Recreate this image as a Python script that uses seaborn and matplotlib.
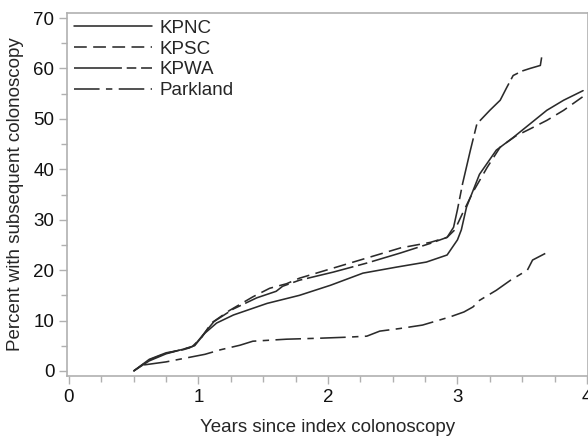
import matplotlib
matplotlib.use("Agg")
import matplotlib.pyplot as plt
import pandas as pd
import seaborn as sns
from matplotlib.ticker import MultipleLocator

# values
kpnc_years = [0.5, 0.62, 0.75, 0.88, 0.97, 1.05, 1.14, 1.27, 1.53, 1.78, 2.02, 2.27,
              2.53, 2.76, 2.92, 3.0, 3.03, 3.07, 3.17, 3.3, 3.43, 3.56, 3.69, 3.82, 3.97]
kpnc_pct = [0, 2.0, 3.4, 4.3, 5.0, 7.5, 9.5, 11.1, 13.4, 15.0, 17.0, 19.4,
            20.6, 21.6, 23.0, 26.0, 28.0, 32.5, 39.0, 43.8, 46.3, 49.0, 51.7, 53.7, 55.6]

kpsc_years = [0.5, 0.62, 0.75, 0.88, 0.95, 1.02, 1.1, 1.24, 1.42, 1.55, 1.68, 1.78, 2.04,
              2.3, 2.56, 2.79, 2.92, 2.98, 3.04, 3.12, 3.23, 3.33, 3.45, 3.56, 3.69, 3.82, 3.99]
kpsc_pct = [0, 2.2, 3.5, 4.3, 4.8, 6.5, 9.5, 12.0, 14.7, 16.4, 17.3, 18.4, 20.4,
            22.4, 24.4, 25.5, 26.5, 28.0, 31.3, 35.5, 40.4, 44.4, 46.6, 48.0, 49.7, 51.7, 54.8]

kpwa_years = [0.5, 0.62, 0.75, 0.88, 0.96, 1.03, 1.12, 1.27, 1.45, 1.6, 1.65, 1.78, 2.04,
              2.3, 2.56, 2.79, 2.92, 2.97, 3.0, 3.04, 3.1, 3.15, 3.25, 3.33, 3.38, 3.43,
              3.5, 3.56, 3.64, 3.65]
kpwa_pct = [0, 2.3, 3.6, 4.2, 4.8, 7.0, 9.8, 12.3, 14.5, 15.8, 16.8, 18.0, 19.6,
            21.4, 23.4, 25.3, 26.5, 28.5, 32.0, 37.2, 43.8, 49.0, 51.7, 53.7, 56.2, 58.6,
            59.5, 60.0, 60.6, 62.2]

parkland_years = [0.58, 0.75, 0.91, 1.05, 1.17, 1.32, 1.42, 1.55, 1.68, 1.94, 2.15, 2.3,
                  2.4, 2.55, 2.73, 2.94, 3.05, 3.12, 3.17, 3.3, 3.41, 3.54, 3.58, 3.7]
parkland_pct = [1.2, 1.8, 2.6, 3.3, 4.2, 5.1, 5.9, 6.1, 6.3, 6.5, 6.7, 6.9,
                7.9, 8.4, 9.1, 10.7, 11.7, 12.7, 14.0, 16.0, 18.0, 20.0, 22.0, 23.6]

sites = ["KPNC", "KPSC", "KPWA", "Parkland"]


def _long_frame() -> pd.DataFrame:
    parts = []
    for site, xs, ys in zip(
        sites,
        [kpnc_years, kpsc_years, kpwa_years, parkland_years],
        [kpnc_pct, kpsc_pct, kpwa_pct, parkland_pct],
    ):
        parts.append(pd.DataFrame({"years": xs, "pct": ys, "site": site}))
    return pd.concat(parts, ignore_index=True)


df = _long_frame()

sns.set_style("ticks")
plt.rcParams["font.family"] = ["Liberation Sans", "DejaVu Sans"]

fig = plt.figure(figsize=(5.88, 4.38), dpi=100)
ax = fig.add_axes([67 / 588, 62 / 438, 521 / 588, 363 / 438])

line_col = "#2b2b2b"
dashes = {
    "KPNC": "",
    "KPSC": (8, 4),
    "KPWA": (30, 3, 6, 3),
    "Parkland": (16, 4, 4, 4),
}
sns.lineplot(
    data=df, x="years", y="pct", hue="site", style="site",
    hue_order=sites, style_order=sites,
    palette={s: line_col for s in sites}, dashes=dashes,
    sort=False, estimator=None, linewidth=1.15, ax=ax,
)

ax.set_xlim(-0.015, 4.008)
ax.set_ylim(-1, 71)
ax.xaxis.set_major_locator(MultipleLocator(1))
ax.xaxis.set_minor_locator(MultipleLocator(0.25))
ax.yaxis.set_major_locator(MultipleLocator(10))
ax.yaxis.set_minor_locator(MultipleLocator(5))

spine_col = "#b0b0b0"
for side in ["left", "bottom", "top", "right"]:
    ax.spines[side].set_color(spine_col)
    ax.spines[side].set_linewidth(1.2)
ax.tick_params(which="major", length=6, width=1, color=spine_col, labelsize=13.5,
               labelcolor="#111111", pad=3)
ax.tick_params(which="minor", length=4, width=1, color=spine_col)

ax.set_xlabel("Years since index colonoscopy", fontsize=13.5, labelpad=10)
ax.set_ylabel("Percent with subsequent colonoscopy", fontsize=13.5, labelpad=7)

ax.legend(
    loc="upper left", frameon=False, fontsize=13.5, handlelength=4.2,
    handletextpad=0.4, labelspacing=0.2, borderaxespad=0.1,
    borderpad=0.25, bbox_to_anchor=(0.0, 1.0),
)

fig.savefig("out.png", dpi=100)
